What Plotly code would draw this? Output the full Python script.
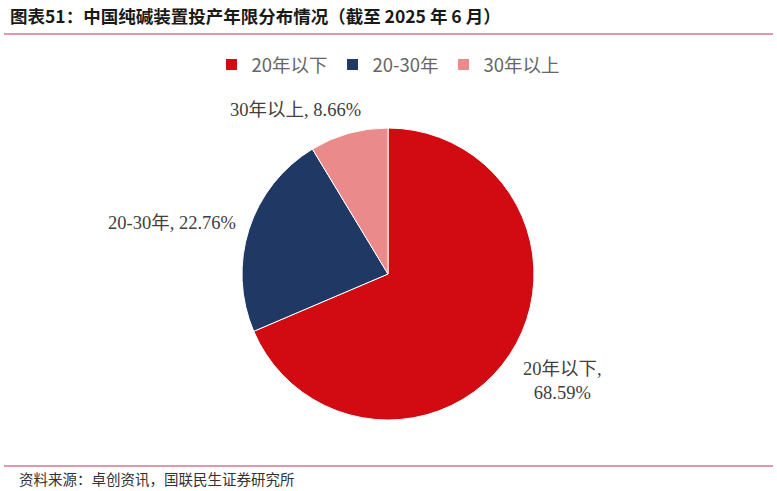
import plotly.graph_objects as go

# 数据
labels = ["20年以下", "20-30年", "30年以上"]
values = [68.59, 22.76, 8.66]
colors = ["#D20A11", "#1F3864", "#EA8A8A"]

W, H = 777, 491

fig = go.Figure()
fig.add_trace(go.Pie(
    labels=labels, values=values, sort=False, direction="clockwise", rotation=0,
    marker=dict(colors=colors, line=dict(color="white", width=1)),
    textinfo="none", hoverinfo="label+percent",
    domain=dict(x=[(388 - 146) / W, (388 + 146) / W],
                y=[1 - (274 + 146) / H, 1 - (274 - 146) / H]),
))

# 数据标签
lab_font = dict(family="Liberation Serif, Noto Sans CJK SC", size=18.5, color="#404040")
pos = [(562, 381), (172, 223), (295, 110)]
txt = [f"{labels[0]},<br>{values[0]:.2f}%",
       f"{labels[1]}, {values[1]:.2f}%",
       f"{labels[2]}, {values[2]:.2f}%"]
for (px_, py_), t in zip(pos, txt):
    fig.add_annotation(x=px_ / W, y=1 - py_ / H, xref="paper", yref="paper",
                       xanchor="center", yanchor="middle",
                       text=t, showarrow=False, font=lab_font, align="center")

# 标题、来源与分割线
fig.add_annotation(x=8 / W, y=1 - 15 / H, xref="paper", yref="paper",
                   xanchor="left", yanchor="middle",
                   text="<b>图表51：中国纯碱装置投产年限分布情况（截至 2025 年 6 月）</b>",
                   showarrow=False, font=dict(family="Noto Sans CJK SC", size=17.5, color="#1a1a1a"))
fig.add_annotation(x=17 / W, y=1 - 478 / H, xref="paper", yref="paper",
                   xanchor="left", yanchor="middle",
                   text="资料来源：卓创资讯，国联民生证券研究所",
                   showarrow=False, font=dict(family="Noto Sans CJK SC", size=14.5, color="#333333"))
fig.add_shape(type="line", xref="paper", yref="paper", x0=4 / W, x1=773 / W,
              y0=1 - 34 / H, y1=1 - 34 / H, line=dict(color="#C8325A", width=1.2))
fig.add_shape(type="line", xref="paper", yref="paper", x0=4 / W, x1=773 / W,
              y0=1 - 466 / H, y1=1 - 466 / H, line=dict(color="#C8325A", width=1.2))

fig.update_layout(
    width=W, height=H, margin=dict(l=0, r=0, t=0, b=0),
    paper_bgcolor="white", plot_bgcolor="white",
    showlegend=True,
    legend=dict(orientation="h", x=0.5, xanchor="center", y=1 - 65 / H, yanchor="middle",
                font=dict(family="Noto Sans CJK SC", size=18.5, color="#666666"),
                itemwidth=30, traceorder="normal"),
)

fig.write_html("out.html", config={"displayModeBar": False},
               post_script="document.body.style.margin='0';")
